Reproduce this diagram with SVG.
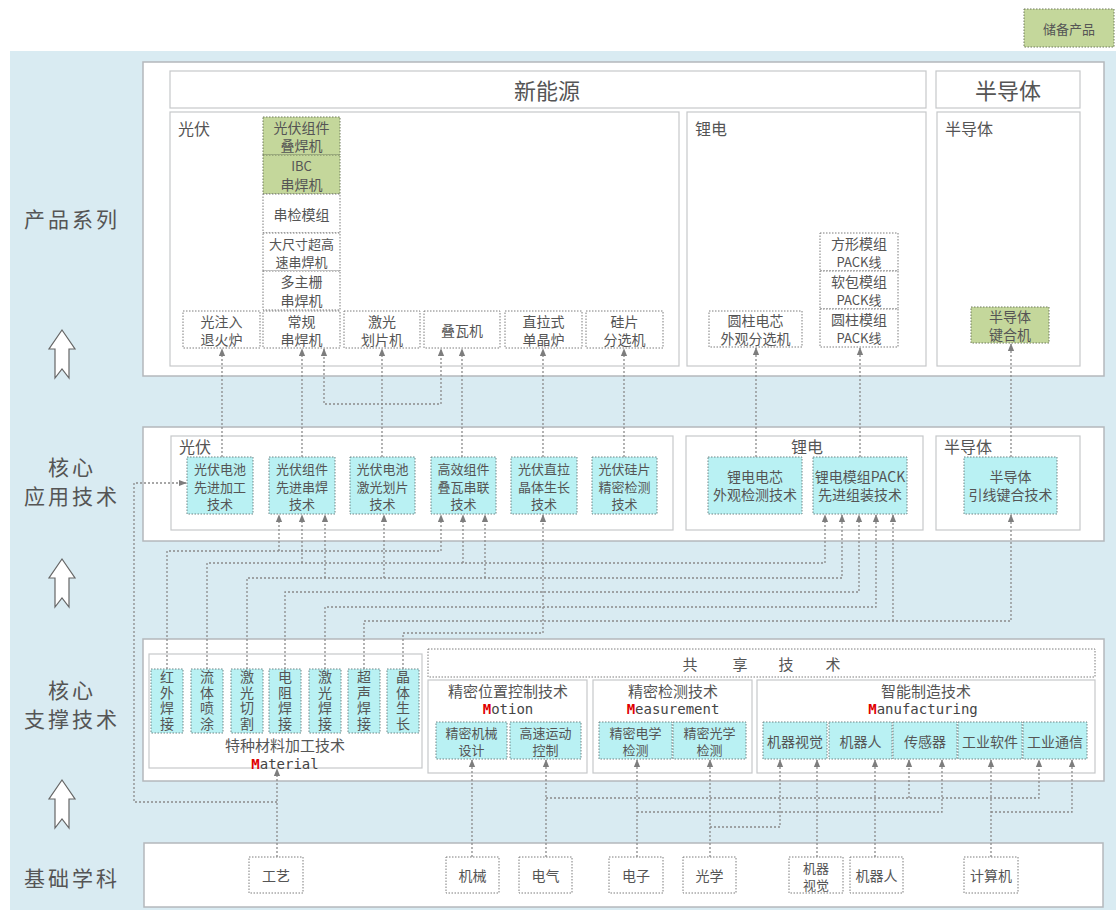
<svg xmlns="http://www.w3.org/2000/svg" width="1116" height="910" viewBox="0 0 1116 910">
<style>
text{font-family:"Noto Sans CJK SC","Noto Sans",sans-serif;fill:#555;text-anchor:middle;dominant-baseline:central}
.panel{fill:#fff;stroke:#b4b8bc;stroke-width:1.5}
.sub{fill:#fff;stroke:#c6c8ca;stroke-width:1.2}
.pbox{fill:#fff;stroke:#7c7c7c;stroke-width:1;stroke-dasharray:1.5 1.5}
.green{fill:#c4d79b;stroke:#6f7a5c;stroke-width:1;stroke-dasharray:1.5 1.5}
.cyan{fill:#b9f1f3;stroke:#6f8585;stroke-width:1;stroke-dasharray:1.5 1.5}
.conn{fill:none;stroke:#8a8a8a;stroke-width:1.3;stroke-dasharray:2 2}
.big{font-size:21px;letter-spacing:3px}
.t14{font-size:14px}
.t13{font-size:13px}
.t15{font-size:15px}
.vt{writing-mode:tb;font-size:14px;letter-spacing:1.5px;text-anchor:middle;dominant-baseline:auto}
.mono{font-family:"DejaVu Sans Mono","Liberation Mono",monospace;font-size:14px;fill:#444}
.red{fill:#e00000;font-weight:bold}
.harrow{fill:#fff;stroke:#666;stroke-width:1.2}
</style>
<defs>
<marker id="ah" viewBox="0 0 10 10" refX="9" refY="5" markerWidth="8" markerHeight="8" markerUnits="userSpaceOnUse" orient="auto-start-reverse">
<path d="M0,1 L10,5 L0,9 z" fill="#7d7d7d"/>
</marker>
</defs>

<rect x="10" y="51" width="1106" height="859" fill="#d9ebf2"/>

<g id="legend"><rect class="green" x="1024" y="9" width="90" height="38"/><text class="t13" x="1069" y="28">储备产品</text></g>

<g id="side-labels">
<text class="big" x="72" y="218">产品系列</text>
<text class="big"><tspan x="72" y="466">核心</tspan><tspan x="72" y="495">应用技术</tspan></text>
<text class="big"><tspan x="72" y="689">核心</tspan><tspan x="72" y="718">支撑技术</tspan></text>
<text class="big" x="72" y="877">基础学科</text>
<path class="harrow" d="M62,330 L75,349 L69,349 L69,378 L62,369 L55,378 L55,349 L49,349 Z"/>
<path class="harrow" d="M62,559 L75,578 L69,578 L69,607 L62,598 L55,607 L55,578 L49,578 Z"/>
<path class="harrow" d="M62,780 L75,799 L69,799 L69,828 L62,819 L55,828 L55,799 L49,799 Z"/>
</g>

<g id="products">
<rect class="panel" x="143" y="62" width="961" height="314"/>
<rect class="sub" x="170" y="71" width="756" height="37"/>
<text x="547" y="89" style="font-size:22px">新能源</text>
<rect class="sub" x="936" y="71" width="144" height="37"/>
<text x="1008" y="89" style="font-size:22px">半导体</text>
<rect class="sub" x="170" y="112" width="509" height="254"/>
<text x="178" y="128" style="font-size:16px;text-anchor:start">光伏</text>
<rect class="sub" x="687" y="112" width="239" height="254"/>
<text x="695" y="128" style="font-size:16px;text-anchor:start">锂电</text>
<rect class="sub" x="937" y="112" width="143" height="254"/>
<text x="945" y="128" style="font-size:16px;text-anchor:start">半导体</text>
</g>

<g id="p-diehan"><rect class="green" x="263" y="117" width="77" height="38"/><text class="t14"><tspan x="301.5" y="127">光伏组件</tspan><tspan x="301.5" y="145">叠焊机</tspan></text></g>
<g id="p-ibc"><rect class="green" x="263" y="155" width="77" height="39"/><text class="t13"><tspan x="301.5" y="165">IBC</tspan><tspan x="301.5" y="184" style="font-size:14px">串焊机</tspan></text></g>
<g id="p-chuanjian"><rect class="pbox" x="263" y="194" width="77" height="39"/><text class="t14" x="301.5" y="213.5">串检模组</text></g>
<g id="p-dachicun"><rect class="pbox" x="263" y="233" width="77" height="38"/><text class="t13"><tspan x="301.5" y="243">大尺寸超高</tspan><tspan x="301.5" y="261">速串焊机</tspan></text></g>
<g id="p-duozhushan"><rect class="pbox" x="263" y="271" width="77" height="39"/><text class="t14"><tspan x="301.5" y="281">多主栅</tspan><tspan x="301.5" y="300">串焊机</tspan></text></g>
<g id="p-guangzhuru"><rect class="pbox" x="183" y="311" width="77" height="37"/><text class="t14"><tspan x="221.5" y="321">光注入</tspan><tspan x="221.5" y="339">退火炉</tspan></text></g>
<g id="p-changgui"><rect class="pbox" x="263" y="311" width="77" height="37"/><text class="t14"><tspan x="301.5" y="321">常规</tspan><tspan x="301.5" y="339">串焊机</tspan></text></g>
<g id="p-jiguang"><rect class="pbox" x="344" y="311" width="76" height="37"/><text class="t14"><tspan x="382" y="321">激光</tspan><tspan x="382" y="339">划片机</tspan></text></g>
<g id="p-diewa"><rect class="pbox" x="424" y="311" width="76" height="37"/><text class="t14" x="462" y="329.5">叠瓦机</text></g>
<g id="p-zhila"><rect class="pbox" x="505" y="311" width="77" height="37"/><text class="t14"><tspan x="543.5" y="321">直拉式</tspan><tspan x="543.5" y="339">单晶炉</tspan></text></g>
<g id="p-guipian"><rect class="pbox" x="586" y="311" width="77" height="37"/><text class="t14"><tspan x="624.5" y="321">硅片</tspan><tspan x="624.5" y="339">分选机</tspan></text></g>
<g id="p-yuanzhu-cell"><rect class="pbox" x="709" y="311" width="93" height="36"/><text class="t14"><tspan x="755.5" y="320">圆柱电芯</tspan><tspan x="755.5" y="338">外观分选机</tspan></text></g>
<g id="p-fangxing"><rect class="pbox" x="820" y="233" width="78" height="38"/><text class="t14"><tspan x="859" y="243">方形模组</tspan><tspan x="859" y="261" style="font-size:13px">PACK线</tspan></text></g>
<g id="p-ruanbao"><rect class="pbox" x="820" y="271" width="78" height="38"/><text class="t14"><tspan x="859" y="281">软包模组</tspan><tspan x="859" y="299" style="font-size:13px">PACK线</tspan></text></g>
<g id="p-yuanzhu-pack"><rect class="pbox" x="820" y="309" width="78" height="38"/><text class="t14"><tspan x="859" y="319">圆柱模组</tspan><tspan x="859" y="337" style="font-size:13px">PACK线</tspan></text></g>
<g id="p-jianhe"><rect class="green" x="971" y="307" width="78" height="36"/><text class="t14"><tspan x="1010" y="316">半导体</tspan><tspan x="1010" y="334">键合机</tspan></text></g>

<g id="app-row">
<rect class="panel" x="143" y="427" width="961" height="114"/>
<rect class="sub" x="171" y="436" width="502" height="94"/>
<text x="179" y="446" style="font-size:16px;text-anchor:start">光伏</text>
<rect class="sub" x="686" y="436" width="237" height="94"/>
<text x="807" y="446" style="font-size:16px">锂电</text>
<rect class="sub" x="936" y="436" width="144" height="94"/>
<text x="944" y="446" style="font-size:16px;text-anchor:start">半导体</text>
</g>
<g id="a-pv-cell"><rect class="cyan" x="187" y="457" width="66" height="57"/><text class="t13"><tspan x="220" y="468">光伏电池</tspan><tspan x="220" y="485.5">先进加工</tspan><tspan x="220" y="503">技术</tspan></text></g>
<g id="a-pv-module"><rect class="cyan" x="269" y="457" width="66" height="57"/><text class="t13"><tspan x="302" y="468">光伏组件</tspan><tspan x="302" y="485.5">先进串焊</tspan><tspan x="302" y="503">技术</tspan></text></g>
<g id="a-pv-laser"><rect class="cyan" x="350" y="457" width="65" height="57"/><text class="t13"><tspan x="382.5" y="468">光伏电池</tspan><tspan x="382.5" y="485.5">激光划片</tspan><tspan x="382.5" y="503">技术</tspan></text></g>
<g id="a-pv-shingle"><rect class="cyan" x="431" y="457" width="65" height="57"/><text class="t13"><tspan x="463.5" y="468">高效组件</tspan><tspan x="463.5" y="485.5">叠瓦串联</tspan><tspan x="463.5" y="503">技术</tspan></text></g>
<g id="a-pv-crystal"><rect class="cyan" x="511" y="457" width="66" height="57"/><text class="t13"><tspan x="544" y="468">光伏直拉</tspan><tspan x="544" y="485.5">晶体生长</tspan><tspan x="544" y="503">技术</tspan></text></g>
<g id="a-pv-wafer"><rect class="cyan" x="592" y="457" width="65" height="57"/><text class="t13"><tspan x="624.5" y="468">光伏硅片</tspan><tspan x="624.5" y="485.5">精密检测</tspan><tspan x="624.5" y="503">技术</tspan></text></g>
<g id="a-li-cell"><rect class="cyan" x="708" y="457" width="94" height="57"/><text class="t14"><tspan x="755" y="476">锂电电芯</tspan><tspan x="755" y="494">外观检测技术</tspan></text></g>
<g id="a-li-pack"><rect class="cyan" x="813" y="457" width="94" height="57"/><text class="t14"><tspan x="860" y="476">锂电模组PACK</tspan><tspan x="860" y="494">先进组装技术</tspan></text></g>
<g id="a-semi"><rect class="cyan" x="964" y="457" width="93" height="57"/><text class="t14"><tspan x="1010.5" y="476">半导体</tspan><tspan x="1010.5" y="494">引线键合技术</tspan></text></g>

<g id="support-row">
<rect class="panel" x="143" y="639" width="961" height="142"/>
<rect class="sub" x="149" y="654" width="273" height="114"/>
<text x="285" y="744" style="font-size:15px">特种材料加工技术</text>
<text class="mono" x="285" y="764"><tspan class="red">M</tspan>aterial</text>
</g>
<g id="shared-header"><rect class="pbox" x="428" y="649" width="667" height="28"/>
<text class="t15" x="690" y="663">共</text><text class="t15" x="740" y="663">享</text><text class="t15" x="786" y="663">技</text><text class="t15" x="833" y="663">术</text></g>
<g id="motion"><rect class="sub" x="428" y="680" width="159" height="93"/><text class="t15" x="508" y="690">精密位置控制技术</text><text class="mono" x="508" y="709"><tspan class="red">M</tspan>otion</text></g>
<g id="measurement"><rect class="sub" x="593" y="680" width="159" height="93"/><text class="t15" x="673" y="690">精密检测技术</text><text class="mono" x="673" y="709"><tspan class="red">M</tspan>easurement</text></g>
<g id="manufacturing"><rect class="sub" x="757" y="680" width="338" height="93"/><text class="t15" x="926" y="690">智能制造技术</text><text class="mono" x="923" y="709"><tspan class="red">M</tspan>anufacturing</text></g>

<g id="m-hongwai"><rect class="cyan" x="151" y="669" width="32" height="64"/><text class="vt" x="167" y="701">红外焊接</text></g>
<g id="m-liuti"><rect class="cyan" x="191" y="669" width="32" height="64"/><text class="vt" x="207" y="701">流体喷涂</text></g>
<g id="m-qiege"><rect class="cyan" x="231" y="669" width="32" height="64"/><text class="vt" x="247" y="701">激光切割</text></g>
<g id="m-dianzu"><rect class="cyan" x="269" y="669" width="32" height="64"/><text class="vt" x="285" y="701">电阻焊接</text></g>
<g id="m-jiguanghan"><rect class="cyan" x="309" y="669" width="32" height="64"/><text class="vt" x="325" y="701">激光焊接</text></g>
<g id="m-chaosheng"><rect class="cyan" x="348" y="669" width="32" height="64"/><text class="vt" x="364" y="701">超声焊接</text></g>
<g id="m-jingti"><rect class="cyan" x="387" y="669" width="32" height="64"/><text class="vt" x="403" y="701">晶体生长</text></g>

<g id="s-jixie"><rect class="cyan" x="436" y="722" width="71" height="37"/><text class="t13"><tspan x="471.5" y="731.5">精密机械</tspan><tspan x="471.5" y="749">设计</tspan></text></g>
<g id="s-yundong"><rect class="cyan" x="510" y="722" width="71" height="37"/><text class="t13"><tspan x="545.5" y="731.5">高速运动</tspan><tspan x="545.5" y="749">控制</tspan></text></g>
<g id="s-dianxue"><rect class="cyan" x="599" y="722" width="73" height="37"/><text class="t13"><tspan x="635.5" y="731.5">精密电学</tspan><tspan x="635.5" y="749">检测</tspan></text></g>
<g id="s-guangxue"><rect class="cyan" x="673" y="722" width="73" height="37"/><text class="t13"><tspan x="709.5" y="731.5">精密光学</tspan><tspan x="709.5" y="749">检测</tspan></text></g>
<g id="s-shijue"><rect class="cyan" x="763" y="722" width="64" height="37"/><text class="t14" x="795" y="740.5">机器视觉</text></g>
<g id="s-jiqiren"><rect class="cyan" x="829" y="722" width="63" height="37"/><text class="t14" x="860.5" y="740.5">机器人</text></g>
<g id="s-chuanganqi"><rect class="cyan" x="893" y="722" width="64" height="37"/><text class="t14" x="925" y="740.5">传感器</text></g>
<g id="s-ruanjian"><rect class="cyan" x="958" y="722" width="64" height="37"/><text class="t14" x="990" y="740.5">工业软件</text></g>
<g id="s-tongxin"><rect class="cyan" x="1023" y="722" width="64" height="37"/><text class="t14" x="1055" y="740.5">工业通信</text></g>

<g id="foundation-row"><rect class="panel" x="144" y="843" width="959" height="64"/></g>
<g id="f-gongyi"><rect class="pbox" x="249" y="857" width="54" height="36"/><text class="t14" x="276" y="875">工艺</text></g>
<g id="f-jixie"><rect class="pbox" x="446" y="857" width="53" height="36"/><text class="t14" x="472.5" y="875">机械</text></g>
<g id="f-dianqi"><rect class="pbox" x="519" y="857" width="53" height="36"/><text class="t14" x="545.5" y="875">电气</text></g>
<g id="f-dianzi"><rect class="pbox" x="609" y="857" width="54" height="36"/><text class="t14" x="636" y="875">电子</text></g>
<g id="f-guangxue"><rect class="pbox" x="683" y="857" width="53" height="36"/><text class="t14" x="709.5" y="875">光学</text></g>
<g id="f-shijue"><rect class="pbox" x="789" y="857" width="54" height="36"/><text class="t13"><tspan x="816" y="866.5">机器</tspan><tspan x="816" y="884">视觉</tspan></text></g>
<g id="f-jiqiren"><rect class="pbox" x="850" y="857" width="53" height="36"/><text class="t14" x="876.5" y="875">机器人</text></g>
<g id="f-jisuanji"><rect class="pbox" x="964" y="857" width="54" height="36"/><text class="t14" x="991" y="875">计算机</text></g>

<g id="connectors" class="conn">
<path d="M222,457 V349" marker-end="url(#ah)"/>
<path d="M302,457 V349" marker-end="url(#ah)"/>
<path d="M382,457 V349" marker-end="url(#ah)"/>
<path d="M462,457 V349" marker-end="url(#ah)"/>
<path d="M543,457 V349" marker-end="url(#ah)"/>
<path d="M624,457 V349" marker-end="url(#ah)"/>
<path d="M756,457 V348" marker-end="url(#ah)"/>
<path d="M860,457 V348" marker-end="url(#ah)"/>
<path d="M1011,457 V344" marker-end="url(#ah)"/>
<path d="M324,349 V404 H441 V349" marker-start="url(#ah)" marker-end="url(#ah)"/>
<path d="M167,669 V551 H441 V515" marker-end="url(#ah)"/>
<path d="M279,551 V515" marker-end="url(#ah)"/>
<path d="M207,669 V563 H825 V515" marker-end="url(#ah)"/>
<path d="M302,563 V515" marker-end="url(#ah)"/>
<path d="M463,563 V515" marker-end="url(#ah)"/>
<path d="M247,669 V578 H842 V515" marker-end="url(#ah)"/>
<path d="M325,578 V515" marker-end="url(#ah)"/>
<path d="M384,578 V515" marker-end="url(#ah)"/>
<path d="M485,578 V515" marker-end="url(#ah)"/>
<path d="M285,669 V592 H859 V515" marker-end="url(#ah)"/>
<path d="M325,669 V607 H876 V515" marker-end="url(#ah)"/>
<path d="M364,669 V621 H1011 V515" marker-end="url(#ah)"/>
<path d="M893,621 V515" marker-end="url(#ah)"/>
<path d="M403,669 V633 H543 V515" marker-end="url(#ah)"/>
<path d="M277,857 V769" marker-end="url(#ah)"/>
<path d="M277,802 H134 V483 H186" marker-end="url(#ah)"/>
<path d="M472,857 V760" marker-end="url(#ah)"/>
<path d="M546,857 V760" marker-end="url(#ah)"/>
<path d="M546,798 H1039 V760" marker-end="url(#ah)"/>
<path d="M909,798 V760" marker-end="url(#ah)"/>
<path d="M637,857 V760" marker-end="url(#ah)"/>
<path d="M637,812 H942 V760" marker-end="url(#ah)"/>
<path d="M710,857 V760" marker-end="url(#ah)"/>
<path d="M710,827 H780 V760" marker-end="url(#ah)"/>
<path d="M817,857 V760" marker-end="url(#ah)"/>
<path d="M875,857 V760" marker-end="url(#ah)"/>
<path d="M991,857 V760" marker-end="url(#ah)"/>
<path d="M991,812 H1072 V760" marker-end="url(#ah)"/>
</g>
</svg>
